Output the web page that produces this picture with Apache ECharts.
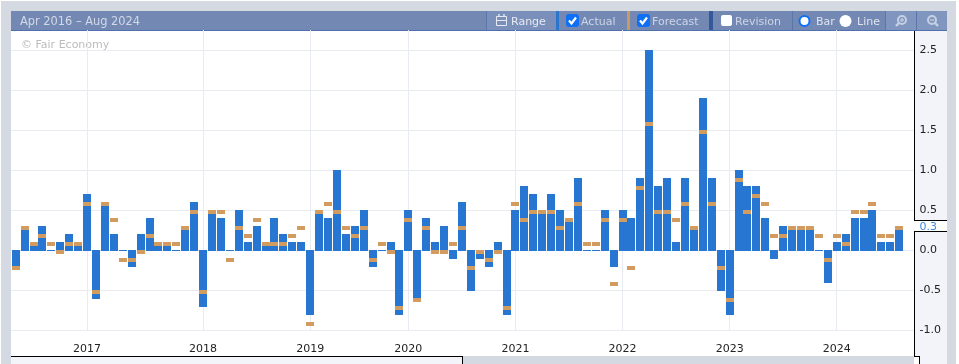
<!DOCTYPE html>
<html><head><meta charset="utf-8">
<style>html,body{margin:0;padding:0;background:#fff;overflow:hidden}#c{width:959px;height:364px}</style>
<script src="https://cdn.jsdelivr.net/npm/echarts@6/dist/echarts.min.js"></script>
</head><body><div id="c"></div>
<script>
const actual = [-0.2,0.3,0.1,0.3,0,0.1,0.2,0.1,0.7,-0.6,0.6,0.2,0,-0.2,0.2,0.4,0.1,0.1,0,0.3,0.6,-0.7,0.5,0.4,0,0.5,
  0.1,0.3,0.1,0.4,0.2,0.1,0.1,-0.8,0.5,0.4,1.0,0.2,0.3,0.5,-0.2,0,0.1,-0.8,0.5,-0.6,0.4,0.1,0.3,-0.1,0.6,-0.5,-0.1,
  -0.2,0.1,-0.8,0.5,0.8,0.7,0.5,0.7,0.5,0.4,0.9,0,0,0.5,-0.2,0.5,0.4,0.9,2.5,0.8,0.9,0.1,0.9,0.3,1.9,0.9,-0.5,-0.8,
  1.0,0.8,0.8,0.4,-0.1,0.3,0.3,0.3,0.3,0,-0.4,0.1,0.2,0.4,0.4,0.5,0.1,0.1,0.3];
const forecast = [-0.2,0.3,0.1,0.2,0.1,0,0.1,0.1,0.6,-0.5,0.6,0.4,-0.1,-0.1,0,0.2,0.1,0.1,0.1,0.3,0.5,-0.5,0.5,0.5,-0.1,0.3,
  0.2,0.4,0.1,0.1,0.1,0.2,0.3,-0.9,0.5,0.6,0.5,0.3,0.2,0.3,-0.1,0.1,0,-0.7,0.4,-0.6,0.3,0,0,0.1,0.3,-0.2,0,
  -0.1,0,-0.7,0.6,0.4,0.5,0.5,0.5,0.3,0.4,0.6,0.1,0.1,0.4,-0.4,0.4,-0.2,0.8,1.6,0.5,0.5,0.4,0.6,0.3,1.5,0.6,-0.2,-0.6,
  0.9,0.5,0.7,0.6,0.2,0.2,0.3,0.3,0.3,0.2,-0.1,0.2,0.1,0.5,0.5,0.6,0.2,0.2,0.3];
const yearLabels = ['2017','2018','2019','2020','2021','2022','2023','2024'];
const yearPositions = [8,21,33,44,56,68,80,92];
const yLabels = [-1,-0.5,0,0.5,1,1.5,2,2.5];
const latestValue = '0.3';
const rangeTitle = 'Apr 2016 \u2013 Aug 2024';

const categories = actual.map((_, i) => { const k = yearPositions.indexOf(i); return k >= 0 ? yearLabels[k] : ''; });
categories.push('');
const isYear = i => yearPositions.includes(i);

const FONT = '"DejaVu Sans", sans-serif';
const GRID = '#e9ebf3', GRAY = '#d5d9e2', PANEL = '#f3f4f9', HEAD = '#7388b3', LIGHT = '#8196be', MID = '#7a8fb9', SEP = '#5b76ab';
const BLUE = '#2776d1', ORANGE = '#d29c60', CHECK = '#0f6ff5';

const R = (x, y, w, h, fill, r) => ({type:'rect', silent:true, shape:{x, y, width:w, height:h, r:r||0}, style:{fill}});
const T = (x, y, text, fill, size) => ({type:'text', silent:true, x, y, style:{text, fill, font:(size||11)+'px '+FONT, textVerticalAlign:'middle', textAlign:'left'}});
const L = (x1, y1, x2, y2, stroke, w) => ({type:'line', silent:true, shape:{x1, y1, x2, y2}, style:{stroke, lineWidth:w||1}});
const check = (x, y) => ({type:'polyline', silent:true, shape:{points:[[x+3,y+6.5],[x+5.5,y+9.5],[x+10,y+3.5]]}, style:{stroke:'#fff', lineWidth:2.2, fill:'none'}});
const mag = (cx, cy) => [
  {type:'circle', silent:true, shape:{cx:cx+1, cy:cy-1, r:4}, style:{fill:'none', stroke:'#c6d0e4', lineWidth:2}},
  L(cx-2, cy+2, cx-5, cy+5, '#c6d0e4', 2.4),
  L(cx-1, cy-1, cx+3, cy-1, '#c6d0e4', 1.2),
  L(cx+1, cy-3, cx+1, cy+1, '#c6d0e4', 1.2)
];
const mag2 = (cx, cy) => [
  {type:'circle', silent:true, shape:{cx:cx-1, cy:cy-1, r:4}, style:{fill:'none', stroke:'#c6d0e4', lineWidth:2}},
  L(cx+2, cy+2, cx+5, cy+5, '#c6d0e4', 2.4),
  L(cx-3, cy-1, cx+1, cy-1, '#c6d0e4', 1.2)
];

const chrome = [
  // outer frame
  R(1, 1, 955, 10, GRAY), R(1, 1, 10, 363, GRAY), R(947, 1, 9, 363, GRAY),
  R(463, 356, 451, 8, GRAY),
  // side panels
  R(915, 31, 32, 326, PANEL), R(920, 357, 27, 7, PANEL), R(11, 357, 451, 7, PANEL),
  L(11, 356.5, 462.5, 356.5, '#000'), L(462.5, 356, 462.5, 364, '#000'),
  L(914.5, 31, 914.5, 220, '#000'), L(914.5, 231, 914.5, 357, '#000'),
  L(914, 356.5, 919.5, 356.5, '#000'), L(919.5, 356, 919.5, 364, '#000'),
  // current value tag
  R(914, 221, 33, 10, '#fff'), L(914, 220.5, 947, 220.5, '#000'), L(914, 231.5, 947, 231.5, '#000'),
  T(919.5, 227, latestValue, '#3f8ae0'),
  // header
  R(11, 11, 936, 19, HEAD), R(11, 30, 936, 1, '#4f6fae'),
  R(487, 11, 69, 19, MID), R(885, 11, 62, 19, LIGHT),
  R(486, 11, 1, 19, SEP), R(792, 11, 1, 19, SEP), R(885, 11, 1, 19, SEP), R(916, 11, 1, 19, SEP),
  R(556, 11, 3, 19, '#2b76cd'), R(627, 11, 3, 19, '#c99a63'), R(709, 11, 4, 19, '#34589b'),
  T(20, 22, rangeTitle, '#d3d9e7', 11.4),
  // range icon
  {type:'rect', silent:true, shape:{x:496.5, y:16.5, width:10, height:9}, style:{fill:'none', stroke:'#e6eaf3', lineWidth:1}},
  L(496, 20.5, 507, 20.5, '#e6eaf3'), L(499, 14, 499, 17, '#e6eaf3', 1.4), L(504, 14, 504, 17, '#e6eaf3', 1.4),
  T(511, 22, 'Range', '#e6eaf3'),
  R(566, 14, 13, 13, CHECK, 3), check(566, 14), T(581, 22, 'Actual', '#cdd5e6'),
  R(637, 14, 13, 13, CHECK, 3), check(637, 14), T(652, 22, 'Forecast', '#cdd5e6'),
  R(721, 15, 11, 11, '#fff', 2), T(735, 22, 'Revision', '#cdd5e6'),
  {type:'circle', silent:true, shape:{cx:804.5, cy:21, r:5}, style:{fill:'#fff', stroke:CHECK, lineWidth:2}},
  T(816, 22, 'Bar', '#dfe4ef'),
  {type:'circle', silent:true, shape:{cx:845.5, cy:21, r:6}, style:{fill:'#fff'}},
  T(857, 22, 'Line', '#dfe4ef'),
  ...mag(901, 21), ...mag2(933, 21),
  T(21, 45, '\u00a9 Fair Economy', '#bcbcbc')
];
// horizontal grid lines run on to the axis line, just past the last band
[50,90,130,170,210,250,290,330].forEach(y => chrome.push(L(912, y + 0.5, 914, y + 0.5, GRID)));
chrome.forEach((e, i) => { e.z2 = i; });

const chart = echarts.init(document.getElementById('c'), null, {renderer:'canvas'});

function barItem(params, api) {
  const i = api.value(0), v = api.value(1);
  const c = api.coord([i, v]), z = api.coord([i, 0]);
  const left = Math.round(c[0] - 4), right = Math.round(c[0] + 4);
  return {type:'rect', shape:{x:left, y:Math.min(c[1], z[1]), width:right-left, height:Math.abs(c[1]-z[1])+1}, style:{fill:BLUE}};
}
function markerItem(params, api) {
  const c = api.coord([api.value(0), api.value(1)]);
  const left = Math.round(c[0] - 4), right = Math.round(c[0] + 4);
  return {type:'rect', shape:{x:left, y:c[1], width:right-left, height:4}, style:{fill:ORANGE}};
}

chart.setOption({
  animation:false,
  backgroundColor:'transparent',
  textStyle:{fontFamily:FONT},
  graphic:{z:0, elements:chrome},
  grid:{left:11.2, right:46.4, top:30, bottom:34},
  xAxis:{type:'category', data:categories, z:1, boundaryGap:true,
    axisLine:{show:false},
    axisTick:{show:true, alignWithLabel:true, length:12, interval:isYear, lineStyle:{color:GRID, width:1}},
    axisLabel:{show:true, interval:0, margin:14, fontSize:11, color:'#222', fontFamily:FONT},
    splitLine:{show:true, alignWithLabel:true, interval:isYear, lineStyle:{color:GRID, width:1}}
  },
  yAxis:{type:'value', position:'right', min:-1, max:2.75, interval:0.5, z:1,
    axisLine:{show:false}, axisTick:{show:false},
    axisLabel:{showMaxLabel:false, margin:7, padding:[2,0,0,0], fontSize:11, color:'#222', fontFamily:FONT, formatter:v => yLabels.includes(v) ? v.toFixed(1) : ''},
    splitLine:{show:true, showMaxLine:false, lineStyle:{color:GRID, width:1}}
  },
  series:[
    {type:'custom', name:'Actual', z:2, data:actual.map((v,i)=>[i,v]), encode:{x:0,y:1}, renderItem:barItem},
    {type:'custom', name:'Forecast', z:3, data:forecast.map((v,i)=>[i,v]), encode:{x:0,y:1}, renderItem:markerItem}
  ]
});
</script></body></html>
